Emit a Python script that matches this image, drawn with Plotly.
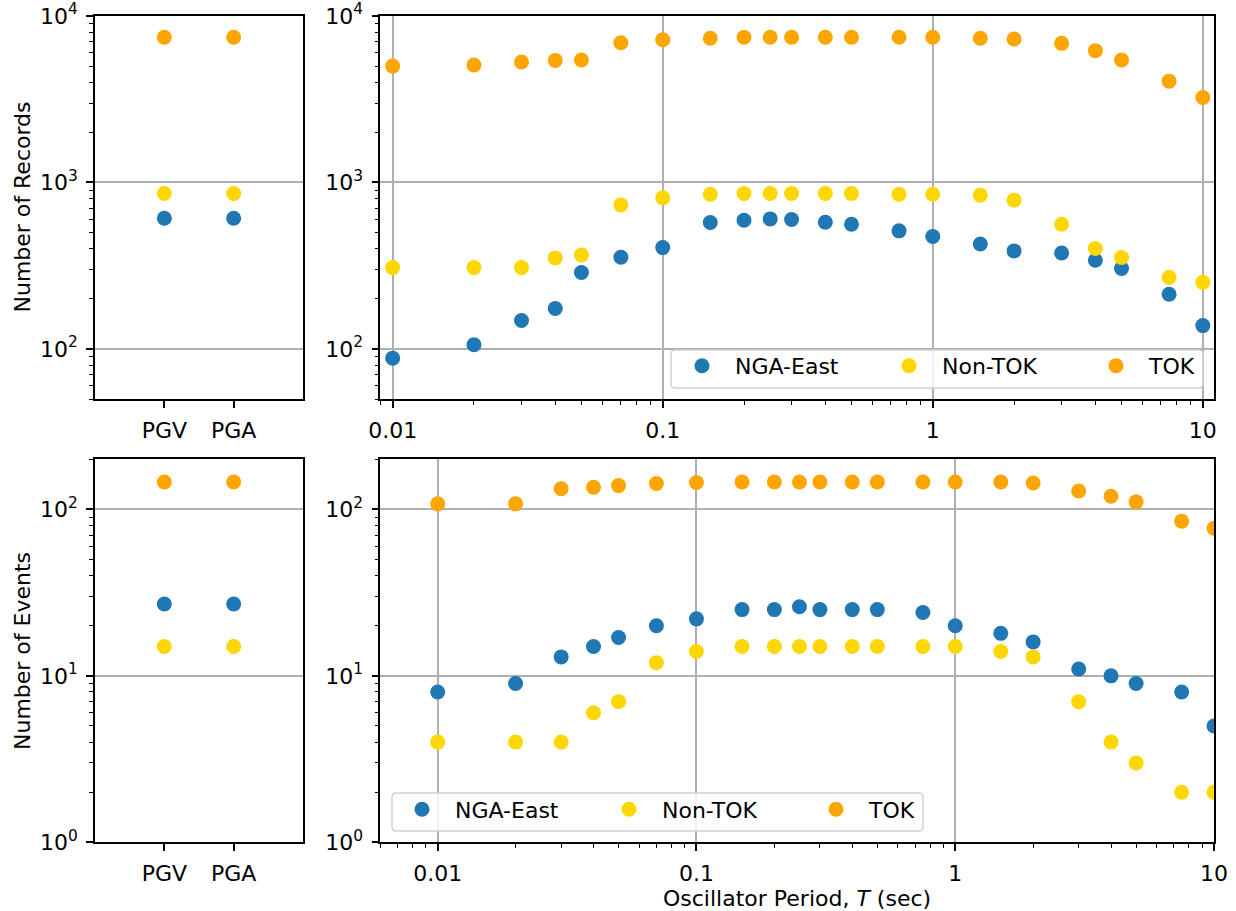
import plotly.graph_objects as go

W, H = 1236, 911

# Oscillator periods (sec) of the spectral ordinates
periods = [0.01, 0.02, 0.03, 0.04, 0.05, 0.07, 0.1, 0.15, 0.2, 0.25, 0.3,
           0.4, 0.5, 0.75, 1, 1.5, 2, 3, 4, 5, 7.5, 10]
pgm_labels = ["PGV", "PGA"]

series_names = ["NGA-East", "Non-TOK", "TOK"]
series_colors = ["#1f77b4", "#FFD700", "#FFA500"]

# Number of records per period
records_nga = [88, 106, 148, 175, 288, 355, 406, 575, 593, 604, 599,
               577, 561, 512, 473, 427, 388, 377, 341, 304, 213, 138]
records_non = [308, 308, 308, 352, 367, 733, 808, 850, 858, 858, 858,
               858, 858, 850, 850, 839, 783, 561, 401, 354, 269, 251]
records_tok = [5000, 5070, 5290, 5410, 5440, 6910, 7200, 7350, 7450, 7450, 7450,
               7450, 7450, 7450, 7450, 7350, 7270, 6850, 6190, 5440, 4060, 3240]
# Number of records for PGV / PGA
pgm_records_nga = [610, 610]
pgm_records_non = [858, 858]
pgm_records_tok = [7450, 7450]

# Number of events per period
events_nga = [8, 9, 13, 15, 17, 20, 22, 25, 25, 26, 25,
              25, 25, 24, 20, 18, 16, 11, 10, 9, 8, 5]
events_non = [4, 4, 4, 6, 7, 12, 14, 15, 15, 15, 15,
              15, 15, 15, 15, 14, 13, 7, 4, 3, 2, 2]
events_tok = [108, 108, 133, 136, 139, 143, 145, 146, 146, 146, 146,
              146, 146, 146, 146, 146, 144, 129, 120, 111, 85, 77]
# Number of events for PGV / PGA
pgm_events_nga = [27, 27]
pgm_events_non = [15, 15]
pgm_events_tok = [146, 146]

# Axis ticks
y_major = [1, 10, 100, 1000, 10000]
y_major_text = ["10<sup>0</sup>", "10<sup>1</sup>", "10<sup>2</sup>",
                "10<sup>3</sup>", "10<sup>4</sup>"]
x_major = [0.01, 0.1, 1, 10]
x_major_text = ["0.01", "0.1", "1", "10"]
minor_vals = [k * 10.0 ** e for e in range(-3, 5) for k in range(2, 10)]

FONT = "DejaVu Sans"
FS = 22


def fx(px):
    return px / W


def fy(py):
    return 1 - py / H


fig = go.Figure()

top_series = [
    (pgm_records_nga, records_nga),
    (pgm_records_non, records_non),
    (pgm_records_tok, records_tok),
]
bottom_series = [
    (pgm_events_nga, events_nga),
    (pgm_events_non, events_non),
    (pgm_events_tok, events_tok),
]

marker_size = 15

for i, name in enumerate(series_names):
    color = series_colors[i]
    pgm_r, per_r = top_series[i]
    pgm_e, per_e = bottom_series[i]
    fig.add_trace(go.Scatter(x=pgm_labels, y=pgm_r, mode="markers", name=name,
                             marker=dict(color=color, size=marker_size),
                             showlegend=False, xaxis="x", yaxis="y"))
    fig.add_trace(go.Scatter(x=periods, y=per_r, mode="markers", name=name,
                             marker=dict(color=color, size=marker_size),
                             showlegend=True, legend="legend",
                             xaxis="x2", yaxis="y2"))
    fig.add_trace(go.Scatter(x=pgm_labels, y=pgm_e, mode="markers", name=name,
                             marker=dict(color=color, size=marker_size),
                             showlegend=False, xaxis="x3", yaxis="y3"))
    fig.add_trace(go.Scatter(x=periods, y=per_e, mode="markers", name=name,
                             marker=dict(color=color, size=marker_size),
                             showlegend=True, legend="legend2",
                             xaxis="x4", yaxis="y4"))

line_style = dict(showline=True, linecolor="black", linewidth=1.5, mirror=True,
                  ticks="outside", ticklen=7, tickwidth=1.5, tickcolor="black",
                  tickfont=dict(family=FONT, size=FS, color="black"),
                  ticklabelstandoff=4, zeroline=False)
grid_style = dict(gridcolor="#b0b0b0", gridwidth=1.5)
minor_style = dict(ticks="outside", ticklen=4, tickwidth=1.2, tickcolor="black",
                   tickmode="array", tickvals=minor_vals, showgrid=False)


def log_y(domain, rng, anchor):
    return dict(type="log", domain=domain, range=rng, anchor=anchor,
                tickmode="array", tickvals=y_major, ticktext=y_major_text,
                showgrid=True, minor=minor_style, **grid_style, **line_style)


def log_x(domain, rng, anchor):
    return dict(type="log", domain=domain, range=rng, anchor=anchor,
                tickmode="array", tickvals=x_major, ticktext=x_major_text,
                showgrid=True, minor=minor_style, **grid_style, **line_style)


def cat_x(domain, anchor):
    return dict(type="category", domain=domain, range=[-1, 2], anchor=anchor,
                categoryorder="array", categoryarray=pgm_labels,
                showgrid=False, **line_style)


left_dom = [fx(95), fx(303)]
right_dom = [fx(380.3), fx(1214)]
top_dom = [fy(399), fy(16)]
bot_dom = [fy(842.3), fy(459.3)]

rec_range = [1.69897, 4.0]
evt_range = [0.0, 2.30103]

# Legend entries: symbol + label, evenly spaced in one row; the frame
# behind them is drawn as a rounded translucent box.
legend_common = dict(orientation="h", bgcolor="rgba(0,0,0,0)", borderwidth=0,
                     font=dict(family=FONT, size=FS, color="black"),
                     itemwidth=56, entrywidth=136, entrywidthmode="pixels",
                     xanchor="left", yanchor="top", itemclick=False)


def legend_frame(x0, y0, x1, y1):
    r = 4
    path = (f"M {fx(x0 + r)},{fy(y0)} L {fx(x1 - r)},{fy(y0)} "
            f"Q {fx(x1)},{fy(y0)} {fx(x1)},{fy(y0 + r)} "
            f"L {fx(x1)},{fy(y1 - r)} Q {fx(x1)},{fy(y1)} {fx(x1 - r)},{fy(y1)} "
            f"L {fx(x0 + r)},{fy(y1)} Q {fx(x0)},{fy(y1)} {fx(x0)},{fy(y1 - r)} "
            f"L {fx(x0)},{fy(y0 + r)} Q {fx(x0)},{fy(y0)} {fx(x0 + r)},{fy(y0)} Z")
    return dict(type="path", xref="paper", yref="paper", path=path,
                fillcolor="rgba(255,255,255,0.8)",
                line=dict(color="#d0d0d0", width=1.5), layer="above")


fig.update_layout(
    width=W, height=H,
    margin=dict(l=0, r=0, t=0, b=0, autoexpand=False),
    paper_bgcolor="white", plot_bgcolor="white",
    font=dict(family=FONT, size=FS, color="black"),
    xaxis=cat_x(left_dom, "y"),
    yaxis=log_y(top_dom, rec_range, "x"),
    xaxis2=log_x(right_dom, [-2.0458, 1.0414], "y2"),
    yaxis2=log_y(top_dom, rec_range, "x2"),
    xaxis3=cat_x(left_dom, "y3"),
    yaxis3=log_y(bot_dom, evt_range, "x3"),
    xaxis4=log_x(right_dom, [-2.2218, 1.0], "y4"),
    yaxis4=log_y(bot_dom, evt_range, "x4"),
    legend=dict(x=fx(669), y=fy(345), **legend_common),
    legend2=dict(x=fx(389), y=fy(788.5), **legend_common),
    shapes=[legend_frame(671, 350, 1203, 388),
            legend_frame(392, 793, 923, 831)],
    annotations=[
        dict(text="Number of Records", xref="paper", yref="paper",
             x=fx(22), y=fy(207.5), textangle=-90, showarrow=False,
             xanchor="center", yanchor="middle",
             font=dict(family=FONT, size=FS, color="black")),
        dict(text="Number of Events", xref="paper", yref="paper",
             x=fx(22), y=fy(651), textangle=-90, showarrow=False,
             xanchor="center", yanchor="middle",
             font=dict(family=FONT, size=FS, color="black")),
        dict(text="Oscillator Period, <i>T</i> (sec)", xref="paper", yref="paper",
             x=fx(797), y=fy(898), showarrow=False,
             xanchor="center", yanchor="middle",
             font=dict(family=FONT, size=FS, color="black")),
    ],
)

fig.write_html("out.html")
